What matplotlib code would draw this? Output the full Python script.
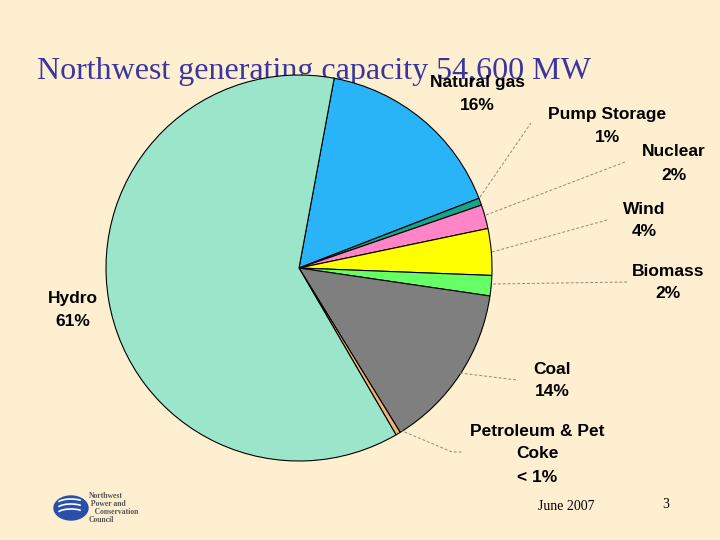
import matplotlib.pyplot as plt
from matplotlib.patches import Ellipse, Arc

# ====== DATA ======
sources = ["Natural gas", "Pump Storage", "Nuclear", "Wind", "Biomass",
           "Coal", "Petroleum & Pet\nCoke", "Hydro"]
shares = [16.2, 0.6, 2.0, 3.9, 1.7, 13.9, 0.4, 61.3]
pct_text = ["16%", "1%", "2%", "4%", "2%", "14%", "< 1%", "61%"]
colors = ["#29B4F8", "#17A58C", "#FF85C8", "#FFFF00", "#66FF66",
          "#7F7F7F", "#F2B56E", "#9BE6CB"]

BG = "#FFEFD1"
W, H = 720, 540

fig = plt.figure(figsize=(7.2, 5.4), dpi=100, facecolor=BG)
ax = fig.add_axes([0, 0, 1, 1])
ax.set_xlim(0, W)
ax.set_ylim(0, H)
ax.set_aspect("equal")
ax.axis("off")
ax.set_facecolor(BG)


def Y(y):
    # pixel row -> axes y
    return H - y


# title sits behind the pie
ax.text(37, Y(72), "Northwest generating capacity 54,600 MW",
        family="Liberation Serif", fontsize=23, color="#3936A0",
        va="center", ha="left", zorder=1)

wedges, _ = ax.pie(shares, colors=colors, startangle=79.5, counterclock=False,
                   center=(299, Y(268)), radius=193, frame=True,
                   wedgeprops=dict(edgecolor="black", linewidth=0.8))
for w in wedges:
    w.set_zorder(2)
ax.set_xlim(0, W)
ax.set_ylim(0, H)
ax.axis("off")

# label positions (center of label block, pixel rows)
label_pos = {
    "Natural gas": (477, 82),
    "Pump Storage": (607, 115),
    "Nuclear": (674, 152),
    "Wind": (644, 209),
    "Biomass": (668, 271),
    "Coal": (552, 369),
    "Petroleum & Pet\nCoke": (537, 431),
    "Hydro": (73, 298),
}
for name, pct in zip(sources, pct_text):
    x, y = label_pos[name]
    lines = name.split("\n") + [pct]
    for i, line in enumerate(lines):
        ax.text(x, Y(y + 23 * i), line, family="Liberation Sans",
                fontweight="bold", fontsize=12.5, ha="center", va="center",
                color="black", zorder=4)

# leader lines
leaders = [
    [(480, 197), (531, 123)],
    [(486, 215), (625, 162)],
    [(492, 252), (607, 220)],
    [(493, 284), (627, 282)],
    [(460, 373), (517, 380)],
    [(400, 430), (452, 452), (462, 452)],
]
for pts in leaders:
    xs = [p[0] for p in pts]
    ys = [Y(p[1]) for p in pts]
    ax.plot(xs, ys, color="#8A8A7A", linewidth=0.7, linestyle=(0, (3, 2)),
            zorder=3)

# footer
ax.text(566, Y(506), "June 2007", family="Liberation Serif", fontsize=10,
        ha="center", va="center")
ax.text(666, Y(504), "3", family="Liberation Serif", fontsize=10,
        ha="center", va="center")

# council logo (rough)
ax.add_patch(Ellipse((71, Y(508)), 34, 24, color="#2A4FA8", zorder=3))
for k in range(3):
    ax.add_patch(Arc((71, Y(508) - 6 + 5 * k), 28, 10, theta1=20, theta2=170,
                     color="white", linewidth=1.2, zorder=4))
ax.text(89, Y(508), "Northwest\n Power and\n   Conservation\nCouncil",
        family="Liberation Serif", fontsize=5.5, fontweight="bold",
        color="#555555", ha="left", va="center", linespacing=0.95)

fig.savefig("out.png", dpi=100, facecolor=BG)
